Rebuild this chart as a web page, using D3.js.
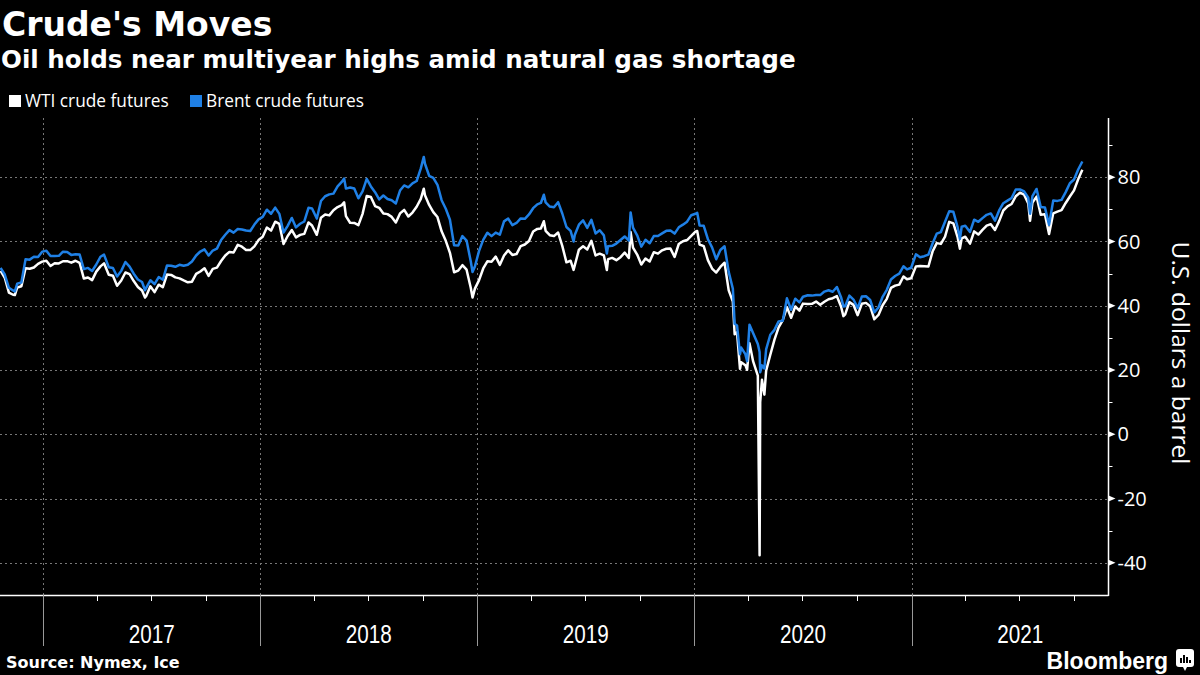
<!DOCTYPE html>
<html>
<head>
<meta charset="utf-8">
<script src="https://cdn.jsdelivr.net/npm/d3@7"></script>
<style>
  html, body { margin: 0; padding: 0; background: #000; }
  svg { display: block; }
</style>
</head>
<body>
<script>
// ---------------- DATA ----------------
const dates = [
"2016-10-21","2016-10-28","2016-11-04","2016-11-11","2016-11-14","2016-11-18","2016-11-25","2016-12-02","2016-12-09","2016-12-16","2016-12-23","2016-12-30",
"2017-01-06","2017-01-13","2017-01-20","2017-01-27","2017-02-03","2017-02-10","2017-02-17","2017-02-24","2017-03-03","2017-03-10","2017-03-17","2017-03-24","2017-03-31",
"2017-04-07","2017-04-13","2017-04-21","2017-04-28","2017-05-05","2017-05-12","2017-05-19","2017-05-26","2017-06-02","2017-06-09","2017-06-16","2017-06-21","2017-06-23","2017-06-30",
"2017-07-07","2017-07-14","2017-07-21","2017-07-28","2017-08-04","2017-08-11","2017-08-18","2017-08-25","2017-09-01","2017-09-08","2017-09-15","2017-09-22","2017-09-29",
"2017-10-06","2017-10-13","2017-10-20","2017-10-27","2017-11-03","2017-11-10","2017-11-17","2017-11-24","2017-12-01","2017-12-08","2017-12-15","2017-12-22","2017-12-29",
"2018-01-05","2018-01-12","2018-01-19","2018-01-26","2018-02-02","2018-02-09","2018-02-16","2018-02-23","2018-03-02","2018-03-09","2018-03-16","2018-03-23","2018-03-29",
"2018-04-06","2018-04-13","2018-04-20","2018-04-27","2018-05-04","2018-05-11","2018-05-18","2018-05-22","2018-05-25","2018-06-01","2018-06-08","2018-06-15","2018-06-22","2018-06-29",
"2018-07-06","2018-07-13","2018-07-20","2018-07-27","2018-08-03","2018-08-10","2018-08-17","2018-08-24","2018-08-31","2018-09-07","2018-09-14","2018-09-21","2018-09-28",
"2018-10-03","2018-10-05","2018-10-12","2018-10-19","2018-10-26","2018-11-02","2018-11-09","2018-11-16","2018-11-23","2018-11-30","2018-12-07","2018-12-14","2018-12-21","2018-12-24","2018-12-28",
"2019-01-04","2019-01-11","2019-01-18","2019-01-25","2019-02-01","2019-02-08","2019-02-15","2019-02-22","2019-03-01","2019-03-08","2019-03-15","2019-03-22","2019-03-29",
"2019-04-05","2019-04-12","2019-04-18","2019-04-23","2019-04-26","2019-05-03","2019-05-10","2019-05-17","2019-05-24","2019-05-31","2019-06-07","2019-06-12","2019-06-14","2019-06-21","2019-06-28",
"2019-07-05","2019-07-12","2019-07-19","2019-07-26","2019-08-02","2019-08-07","2019-08-09","2019-08-16","2019-08-23","2019-08-30","2019-09-06","2019-09-13","2019-09-16","2019-09-20","2019-09-27",
"2019-10-04","2019-10-11","2019-10-18","2019-10-25","2019-11-01","2019-11-08","2019-11-15","2019-11-22","2019-11-29","2019-12-06","2019-12-13","2019-12-20","2019-12-27",
"2020-01-03","2020-01-06","2020-01-10","2020-01-17","2020-01-24","2020-01-31","2020-02-07","2020-02-14","2020-02-21","2020-02-28","2020-03-06","2020-03-09","2020-03-13","2020-03-18","2020-03-20","2020-03-27","2020-03-30",
"2020-04-03","2020-04-09","2020-04-17","2020-04-20","2020-04-21","2020-04-24","2020-04-28","2020-05-01","2020-05-08","2020-05-15","2020-05-22","2020-05-29","2020-06-05","2020-06-12","2020-06-19","2020-06-26",
"2020-07-02","2020-07-10","2020-07-17","2020-07-24","2020-07-31","2020-08-07","2020-08-14","2020-08-21","2020-08-28","2020-09-04","2020-09-08","2020-09-11","2020-09-18","2020-09-25",
"2020-10-02","2020-10-09","2020-10-16","2020-10-23","2020-10-30","2020-11-06","2020-11-13","2020-11-20","2020-11-27","2020-12-04","2020-12-11","2020-12-18","2020-12-24","2020-12-31",
"2021-01-08","2021-01-15","2021-01-22","2021-01-29","2021-02-05","2021-02-12","2021-02-19","2021-02-26","2021-03-05","2021-03-12","2021-03-19","2021-03-23","2021-03-26",
"2021-04-01","2021-04-09","2021-04-16","2021-04-23","2021-04-30","2021-05-07","2021-05-14","2021-05-21","2021-05-28","2021-06-04","2021-06-11","2021-06-18","2021-06-25",
"2021-07-02","2021-07-09","2021-07-16","2021-07-19","2021-07-23","2021-07-30","2021-08-06","2021-08-13","2021-08-20","2021-08-27","2021-09-03","2021-09-10","2021-09-17","2021-09-24",
"2021-10-01","2021-10-08","2021-10-15"
];

const wti = [
50.85,48.70,44.07,43.41,43.32,45.69,46.06,51.68,51.50,51.90,53.02,53.72,
53.99,52.37,53.22,53.17,53.83,53.86,53.40,53.99,53.33,48.49,48.78,47.97,50.60,
52.24,53.18,49.62,49.33,46.22,47.84,50.33,49.80,47.66,45.83,44.74,42.53,43.01,46.04,
44.23,46.54,45.77,49.71,49.58,48.82,48.51,47.87,47.29,47.48,49.89,50.66,51.67,
49.29,51.45,51.84,53.90,55.64,56.74,56.55,58.95,58.36,57.36,57.30,58.47,60.42,
61.44,64.30,63.37,66.14,65.45,59.20,61.68,63.55,61.25,62.04,62.34,65.88,64.94,
62.06,67.39,68.38,68.10,69.72,70.70,71.28,72.13,67.88,65.81,65.74,65.06,68.58,74.15,
73.80,71.01,70.46,68.69,68.49,67.63,65.91,68.72,69.80,67.75,68.99,70.78,73.25,
76.41,74.34,71.34,69.12,67.59,63.14,60.19,56.46,50.42,50.93,52.61,51.20,45.59,42.53,45.33,
47.96,51.59,53.80,53.69,55.26,52.72,55.59,57.26,55.80,56.07,58.52,59.04,60.14,
63.08,63.89,64.00,66.30,63.30,61.94,61.66,62.76,58.63,53.50,54.00,51.14,52.51,57.43,58.47,
57.51,60.21,55.63,56.20,55.66,51.09,54.50,54.87,54.17,55.10,56.52,54.85,62.90,58.09,55.91,
52.81,54.70,53.78,56.66,56.20,57.24,57.72,57.77,55.17,59.20,60.07,60.44,61.72,
63.05,63.27,59.04,58.54,54.19,51.56,50.32,52.05,53.38,44.76,41.28,31.13,31.73,20.37,22.43,21.51,20.09,
28.34,22.76,18.27,-37.63,10.01,16.94,12.34,19.78,24.74,29.43,33.25,35.49,39.55,36.26,39.75,38.49,
40.65,40.55,40.59,41.29,40.27,41.22,42.01,42.34,42.97,39.77,36.76,37.33,41.11,40.25,
37.05,40.60,40.88,39.85,35.79,37.14,40.13,42.15,45.53,46.26,46.57,49.10,48.23,48.52,
52.24,52.36,52.27,52.20,56.85,59.47,59.24,61.50,66.09,65.61,61.42,57.76,60.97,
61.45,59.32,63.13,62.14,63.58,64.90,65.37,63.58,66.32,69.62,70.91,71.64,74.05,
75.16,74.56,71.81,66.42,72.07,73.95,68.28,68.44,62.32,68.74,69.29,69.72,71.97,73.98,
75.88,79.35,82.28
];

const brent = [
51.78,49.71,45.58,44.75,44.43,46.86,47.24,54.46,54.33,55.21,55.16,56.82,
57.10,55.45,55.49,55.52,56.81,56.70,55.81,55.99,55.90,51.37,51.76,50.80,52.83,
55.24,55.89,51.96,51.73,49.10,50.84,53.61,52.15,49.95,48.15,47.37,44.82,45.54,47.92,
46.71,48.91,48.06,52.52,52.42,52.10,52.72,52.41,52.75,53.78,55.62,56.86,57.54,
55.62,57.17,57.75,60.44,62.07,63.52,62.72,63.86,63.73,63.40,63.23,65.25,66.87,
67.62,69.87,68.61,70.52,68.58,62.79,64.84,67.31,64.37,65.49,66.21,70.45,70.27,
67.11,72.58,74.06,74.64,74.87,77.12,78.51,79.57,76.44,76.79,76.46,73.44,75.55,79.44,
77.11,75.33,73.07,74.29,73.21,72.81,71.83,75.82,77.42,76.83,78.09,78.80,82.72,
86.29,84.16,80.43,79.78,77.62,72.83,70.18,66.76,58.80,58.71,61.67,60.28,53.82,50.47,52.20,
57.06,60.48,62.70,61.64,62.75,62.10,66.25,67.12,65.07,65.74,67.16,67.03,68.39,
70.34,71.55,71.97,74.51,72.15,70.85,70.62,72.21,68.69,64.49,63.29,59.97,62.01,65.20,66.55,
64.23,66.72,62.47,63.46,61.89,56.23,58.53,58.64,59.34,60.43,61.54,60.22,69.02,64.28,61.91,
58.37,60.51,59.42,61.67,61.69,62.51,63.30,63.39,62.43,64.39,65.22,66.14,68.16,
68.60,68.91,64.98,64.85,60.69,58.16,54.47,57.32,58.50,50.52,45.27,34.36,33.85,24.88,26.98,24.93,22.76,
34.11,31.48,28.08,25.57,19.33,21.44,20.46,26.44,30.97,32.50,35.13,35.33,42.30,38.73,42.19,41.02,
42.80,43.24,43.14,43.34,43.30,44.40,44.80,44.35,45.81,42.66,39.78,39.83,43.15,41.92,
39.27,42.85,42.93,41.77,37.94,39.45,42.78,44.96,48.18,49.25,49.97,52.26,51.29,51.80,
55.99,55.10,55.41,55.88,59.34,62.43,62.91,66.13,69.36,69.22,64.53,60.79,64.57,
64.86,62.95,66.77,66.11,67.25,68.28,68.71,66.44,69.63,71.89,72.69,73.51,76.18,
76.17,75.55,73.59,68.62,74.10,76.33,70.70,70.59,65.18,72.70,72.61,72.92,75.34,78.09,
79.28,82.39,84.86
];

const yTicks = [-40, -20, 0, 20, 40, 60, 80];
const yearLabels = ["2017", "2018", "2019", "2020", "2021"];
const seriesNames = ["WTI crude futures", "Brent crude futures"];
const seriesColors = ["#ffffff", "#1f80e6"];
const title = "Crude's Moves";
const subtitle = "Oil holds near multiyear highs amid natural gas shortage";
const yTitle = "U.S. dollars a barrel";
const source = "Source: Nymex, Ice";

// ---------------- CHART ----------------
const W = 1200, H = 675;
const plot = { left: 0, right: 1108.5, top: 118, bottom: 595 };
const parse = d3.timeParse("%Y-%m-%d");
const dd = dates.map(parse);

const svg = d3.select("body").append("svg").attr("width", W).attr("height", H)
  .style("background", "#000");

const x = d3.scaleTime()
  .domain([new Date(2016, 9, 20), new Date(2021, 10, 28)])
  .range([plot.left, plot.right]);
const y = d3.scaleLinear().domain([-50, 98.4]).range([plot.bottom, plot.top]);

// horizontal grid
svg.append("g").selectAll("line").data(yTicks).join("line")
  .attr("x1", plot.left).attr("x2", plot.right)
  .attr("y1", d => Math.round(y(d)) + 0.5).attr("y2", d => Math.round(y(d)) + 0.5)
  .attr("stroke", "#777").attr("stroke-width", 1).attr("stroke-dasharray", "2,3");

// vertical grid at year starts
const yearStarts = yearLabels.map(s => new Date(+s, 0, 1));
svg.append("g").selectAll("line").data(yearStarts).join("line")
  .attr("x1", d => Math.round(x(d)) + 0.5).attr("x2", d => Math.round(x(d)) + 0.5)
  .attr("y1", plot.top).attr("y2", plot.bottom)
  .attr("stroke", "#777").attr("stroke-width", 1).attr("stroke-dasharray", "2,3");

// lines
const line = (vals) => d3.line()
  .x((d, i) => x(dd[i]))
  .y(d => y(d))(vals);

[wti, brent].forEach((vals, k) => {
  svg.append("path").attr("d", line(vals))
    .attr("fill", "none").attr("stroke", seriesColors[k])
    .attr("stroke-width", 2.5).attr("stroke-linejoin", "round");
});

// x axis baseline
svg.append("line").attr("x1", plot.left).attr("x2", plot.right)
  .attr("y1", plot.bottom + 0.5).attr("y2", plot.bottom + 0.5)
  .attr("stroke", "#fff").attr("stroke-width", 1.5);

// year separator ticks
svg.append("g").selectAll("line").data(yearStarts).join("line")
  .attr("x1", d => Math.round(x(d)) + 0.5).attr("x2", d => Math.round(x(d)) + 0.5)
  .attr("y1", plot.bottom).attr("y2", 646)
  .attr("stroke", "#999").attr("stroke-width", 1);

// quarter ticks
const quarters = d3.timeMonth.every(3).range(x.domain()[0], x.domain()[1])
  .filter(d => d.getMonth() !== 0);
svg.append("g").selectAll("line").data(quarters).join("line")
  .attr("x1", d => Math.round(x(d)) + 0.5).attr("x2", d => Math.round(x(d)) + 0.5)
  .attr("y1", plot.bottom).attr("y2", plot.bottom + 6)
  .attr("stroke", "#fff").attr("stroke-width", 1);

// year labels
svg.append("g").selectAll("text").data(yearLabels).join("text")
  .attr("x", d => (x(new Date(+d, 0, 1)) + x(new Date(+d + 1, 0, 1))) / 2 - 23)
  .attr("y", 643)
  .attr("textLength", 46)
  .attr("lengthAdjust", "spacingAndGlyphs")
  .attr("fill", "#fff")
  .style("font-family", "'Liberation Sans','Open Sans',sans-serif")
  .style("font-size", "25px")
  .text(d => d);

// right y axis
svg.append("line").attr("x1", plot.right).attr("x2", plot.right)
  .attr("y1", plot.top).attr("y2", plot.bottom + 1)
  .attr("stroke", "#fff").attr("stroke-width", 1.5);

const minorTicks = d3.range(-50, 100, 10).filter(v => !yTicks.includes(v) && v > -50);
svg.append("g").selectAll("line").data(minorTicks).join("line")
  .attr("x1", plot.right).attr("x2", plot.right + 4)
  .attr("y1", d => Math.round(y(d)) + 0.5).attr("y2", d => Math.round(y(d)) + 0.5)
  .attr("stroke", "#fff").attr("stroke-width", 1);

svg.append("g").selectAll("path").data(yTicks).join("path")
  .attr("d", d => {
    const yy = y(d);
    return `M${plot.right},${yy - 3}L${plot.right + 7},${yy}L${plot.right},${yy + 3}Z`;
  })
  .attr("fill", "#fff");

svg.append("g").selectAll("text").data(yTicks).join("text")
  .attr("x", plot.right + 9)
  .attr("y", d => y(d))
  .attr("dy", "0.36em")
  .attr("fill", "#fff")
  .style("font-family", "'Open Sans','Noto Sans',sans-serif")
  .style("font-size", "20px")
  .text(d => d < 0 ? "-" + Math.abs(d) : d);

// y title
svg.append("text")
  .attr("transform", `translate(1172,353) rotate(90)`)
  .attr("text-anchor", "middle")
  .attr("fill", "#fff")
  .style("font-family", "'Open Sans','Noto Sans',sans-serif")
  .style("font-size", "24.5px")
  .text(yTitle);

// titles
svg.append("text").attr("x", 2).attr("y", 36)
  .attr("fill", "#fff")
  .style("font-family", "'DejaVu Sans',sans-serif").style("font-weight", "bold")
  .style("font-size", "33px")
  .text(title);
svg.append("text").attr("x", 1).attr("y", 68)
  .attr("fill", "#fff")
  .style("font-family", "'DejaVu Sans',sans-serif").style("font-weight", "bold")
  .style("font-size", "24.6px")
  .text(subtitle);

// legend
const legX = [9, 190];
seriesNames.forEach((name, k) => {
  svg.append("rect").attr("x", legX[k]).attr("y", 95).attr("width", 12).attr("height", 12)
    .attr("fill", seriesColors[k]);
  svg.append("text").attr("x", legX[k] + 16).attr("y", 107)
    .attr("fill", "#fff")
    .style("font-family", "'Open Sans','Noto Sans',sans-serif")
    .style("font-size", "17.3px")
    .text(name);
});

// source
svg.append("text").attr("x", 6).attr("y", 668)
  .attr("fill", "#fff")
  .style("font-family", "'DejaVu Sans',sans-serif").style("font-weight", "bold")
  .style("font-size", "16px")
  .text(source);

// Bloomberg mark
svg.append("text").attr("x", 1168).attr("y", 669)
  .attr("text-anchor", "end")
  .attr("fill", "#fff")
  .style("font-family", "'Liberation Sans Narrow','Arial Narrow',sans-serif").style("font-weight", "bold")
  .style("font-size", "23px")
  .text("Bloomberg");
const logo = svg.append("g").attr("transform", "translate(1176,649)");
logo.append("rect").attr("width", 18).attr("height", 18).attr("rx", 3).attr("fill", "#fff");
logo.append("path").attr("d", "M7,18 L9,22 L11,18 Z").attr("fill", "#fff");
[[5, 9], [8, 6], [11, 8], [14, 11]].forEach(([bx, by]) => {
  logo.append("rect").attr("x", bx - 1).attr("y", by).attr("width", 2).attr("height", 14 - by).attr("fill", "#000");
});
</script>
</body>
</html>
